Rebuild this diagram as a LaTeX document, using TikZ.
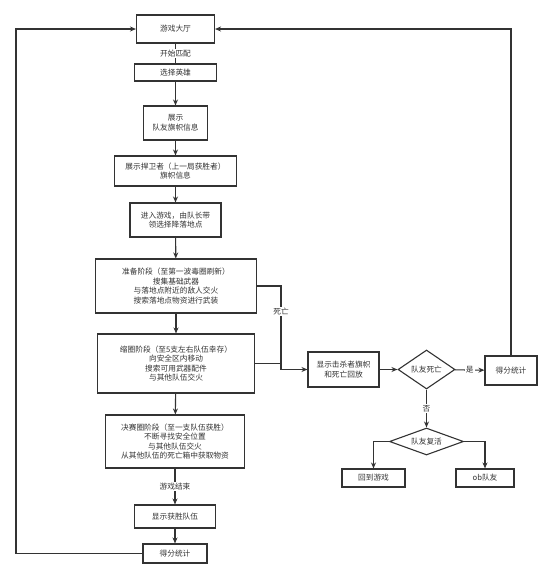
\documentclass[tikz,border=0pt]{standalone}
\usepackage{fontspec}
\newfontfamily\cjk{Noto Sans CJK SC}
\usetikzlibrary{shapes.geometric,arrows.meta}
\definecolor{ln}{HTML}{333333}
\definecolor{tx}{HTML}{333333}
\begin{document}
\begin{tikzpicture}[x=1pt,y=-1pt,
  every node/.style={font=\cjk\fontsize{7.7}{9.6}\selectfont, text=tx},
  box/.style={draw=ln, line width=1.1pt, rectangle, fill=white, align=center, inner sep=0pt},
  dia/.style={draw=ln, line width=1.1pt, diamond, fill=white, align=center, inner sep=0pt, aspect=2},
  lab/.style={fill=white, inner sep=1pt},
  conn/.style={draw=ln, line width=1.1pt},
  arr/.style={conn, -{Stealth[length=6pt,width=5pt]}}]
\useasboundingbox (0,0) rectangle (553,579);
\node[box, minimum width=78pt, minimum height=28pt] (lobby) at (175.5,29) {游戏大厅};
\node[box, minimum width=82pt, minimum height=17pt] (hero) at (175.5,72.5) {选择英雄};
\node[box, minimum width=64pt, minimum height=34pt] (show) at (175.5,123) {展示\\队友旗帜信息};
\node[box, minimum width=122pt, minimum height=30pt] (def) at (175.5,171) {展示捍卫者（上一局获胜者）\\旗帜信息};
\node[box, minimum width=91pt, minimum height=34pt] (enter) at (175.5,220) {进入游戏，由队长带\\领选择降落地点};
\node[box, minimum width=161pt, minimum height=54pt] (prep) at (176,286) {准备阶段（至第一波毒圈刷新）\\搜集基础武器\\与落地点附近的敌人交火\\搜索落地点物资进行武装};
\node[box, minimum width=157pt, minimum height=59pt] (shrink) at (176,363.5) {缩圈阶段（至5支左右队伍幸存）\\向安全区内移动\\搜索可用武器配件\\与其他队伍交火};
\node[box, minimum width=139pt, minimum height=53pt] (final) at (175,441.5) {决赛圈阶段（至一支队伍获胜）\\不断寻找安全位置\\与其他队伍交火\\从其他队伍的死亡箱中获取物资};
\node[box, minimum width=81pt, minimum height=23pt] (win) at (175,516.5) {显示获胜队伍};
\node[box, minimum width=64pt, minimum height=19pt] (score1) at (175,553.5) {得分统计};
\node[box, minimum width=71pt, minimum height=35pt] (kill) at (343.5,369.5) {显示击杀者旗帜\\和死亡回放};
\node[dia, minimum width=57pt, minimum height=39pt] (dead) at (426.5,369.5) {队友死亡};
\node[box, minimum width=52pt, minimum height=29pt] (score2) at (511,370.5) {得分统计};
\node[dia, minimum width=74pt, minimum height=27pt] (revive) at (426.5,441.5) {队友复活};
\node[box, minimum width=63pt, minimum height=18pt] (back) at (373.5,478) {回到游戏};
\node[box, minimum width=58pt, minimum height=18pt] (ob) at (485,478) {ob队友};
\coordinate (j) at (281,369.5);
\coordinate (c1) at (16,553.5);
\coordinate (c2) at (16,29);
\coordinate (c3) at (511,29);

\draw[conn] (lobby.south) -- node[lab] {开始匹配} (hero.north);
\draw[arr] (hero) -- (show);
\draw[arr] (show) -- (def);
\draw[arr] (def) -- (enter);
\draw[arr] (enter) -- (prep);
\draw[arr] (prep) -- (shrink);
\draw[arr] (shrink) -- (final);
\draw[arr] (final) -- node[lab] {游戏结束} (win);
\draw[arr] (win) -- (score1);
\draw[conn] (prep.east) -| node[lab, pos=0.65] {死亡} (j);
\draw[conn] (shrink.east) -- (shrink.east -| j);
\draw[arr] (j) -- (kill.west);
\draw[arr] (kill) -- (dead);
\draw[arr] (dead) -- node[lab] {是} (score2);
\draw[arr] (dead) -- node[lab] {否} (revive);
\draw[arr] (revive.west) -| (back.north);
\draw[arr] (revive.east) -| (ob.north);
\draw[arr] (score1.west) -- (c1) -- (c2) -- (lobby.west);
\draw[arr] (score2.north) -- (c3) -- (lobby.east);
\end{tikzpicture}
\end{document}
